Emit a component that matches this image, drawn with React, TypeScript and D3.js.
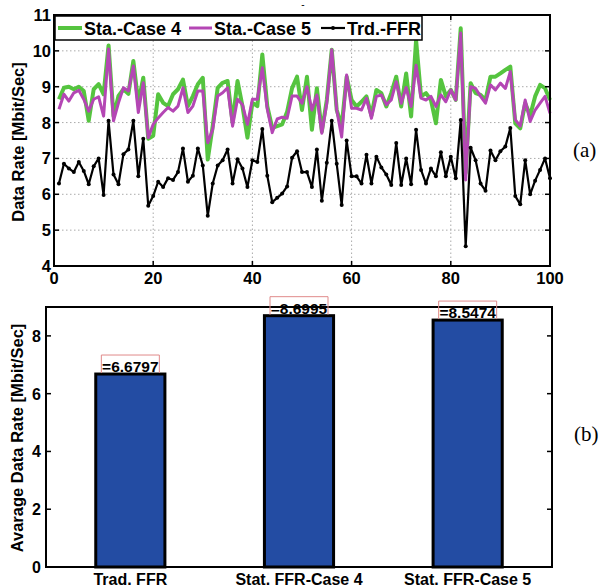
import * as d3 from "d3";

// x positions (time index)
const steps = d3.range(1, 101);

const trdFFR = [
  6.3, 6.85, 6.72, 6.62, 6.9, 6.65, 6.28, 6.78, 7.0, 5.98,
  8.05, 6.55, 6.28, 7.12, 7.25, 8.05, 6.5, 7.55, 5.68, 5.95,
  6.35, 6.2, 6.45, 6.4, 6.62, 7.28, 6.35, 6.52, 7.28, 6.8,
  5.4, 6.3, 6.8, 6.95, 7.25, 6.3, 6.98, 6.72, 6.2, 6.95,
  6.9, 7.82, 6.52, 5.78, 5.9, 6.02, 6.22, 7.02, 7.2, 6.62,
  6.62, 6.2, 7.25, 5.82, 6.88, 8.05, 6.85, 5.7, 7.5, 6.5,
  6.5, 6.3, 7.1, 6.3, 7.05, 6.75, 6.55, 6.26, 7.43, 6.26,
  7.0, 6.28, 7.8, 6.68, 6.3, 6.72, 6.5, 7.17, 6.5, 7.05,
  6.45, 8.07, 4.55, 7.3, 6.95, 6.3, 6.1, 7.22, 6.95, 7.2,
  7.33, 7.85, 5.95, 5.72, 6.95, 6.0, 6.38, 6.68, 7.0, 6.45,
];

const staCase5 = [
  8.37, 8.79, 8.6, 8.83, 8.9, 8.65, 8.32, 8.65, 8.72, 8.18,
  10.05, 8.05, 8.55, 8.97, 8.88, 9.58, 8.28, 9.11, 7.58, 7.95,
  8.13, 8.28, 8.42, 8.32, 8.46, 8.97, 8.28, 8.46, 8.88, 8.88,
  7.44, 7.81, 8.74, 8.83, 8.97, 7.9, 8.65, 8.5, 7.95, 8.65,
  8.65, 9.53, 8.37, 7.72, 8.1, 8.15, 8.12, 8.74, 8.74, 8.54,
  9.0, 8.35, 8.77, 7.7, 8.54, 10.03, 8.35, 7.6, 9.33, 8.4,
  8.4, 8.35, 8.68, 8.12, 8.73, 8.77, 8.5, 8.63, 9.14, 8.54,
  8.98, 8.45, 9.6, 8.68, 8.63, 8.73, 8.45, 8.77, 8.58, 8.91,
  8.63, 10.5, 6.4, 9.0, 8.95, 8.73, 8.54, 9.05, 8.91, 9.1,
  8.95, 9.42, 8.08, 7.9, 8.63, 8.03, 8.35, 8.54, 8.73, 8.26,
];

const staCase4 = [
  8.65, 8.97, 9.0, 8.93, 9.0, 8.88, 8.05, 8.93, 9.07, 8.79,
  10.15, 8.18, 8.74, 8.93, 8.8, 9.72, 8.55, 9.25, 7.55, 7.63,
  8.79, 8.55, 8.46, 8.79, 8.93, 9.2, 8.46, 8.74, 9.07, 9.25,
  6.97, 7.9, 8.97, 9.11, 9.16, 8.0, 9.16, 8.46, 7.58, 8.55,
  8.46, 9.9, 8.46, 7.85, 7.9, 7.95, 8.3, 8.96, 9.28, 8.35,
  9.28, 7.8, 8.96, 7.75, 8.63, 10.03, 8.35, 7.9, 9.28, 8.63,
  8.45, 8.58, 8.73, 8.2, 8.91, 8.82, 8.45, 8.82, 9.28, 8.45,
  9.37, 8.17, 10.3, 8.73, 8.82, 8.63, 7.98, 9.19, 8.73, 8.91,
  8.63, 10.63, 6.6, 9.1, 8.82, 8.77, 8.63, 9.28, 9.28, 9.37,
  9.47, 9.56, 7.98, 7.84, 8.54, 8.2, 8.73, 9.05, 8.96, 8.63,
];

const topXTicks = [0, 20, 40, 60, 80, 100];
const topYTicks = [4, 5, 6, 7, 8, 9, 10, 11];

const barCategories = ["Trad. FFR", "Stat. FFR-Case 4", "Stat. FFR-Case 5"];
const barValues = [6.6797, 8.6995, 8.5474];
const barYTicks = [0, 2, 4, 6, 8];

const FONT = "'Liberation Sans', Arial, Helvetica, sans-serif";
const GREEN = "#55c43f";
const MAGENTA = "#b446b4";
const BAR_BLUE = "#234ca3";

const App = () => {
  // top chart
  const x = d3.scaleLinear().domain([0, 100]).range([54, 550]);
  const y = d3.scaleLinear().domain([4, 11]).range([266, 15]);

  const line = (vals: number[]) =>
    d3
      .line<number>()
      .x((d, i) => x(steps[i]))
      .y((d) => y(d))(vals) as string;

  // bottom chart
  const bx = d3.scaleBand().domain(barCategories).range([46, 552]).paddingInner(0.59).paddingOuter(0.295);
  const by = d3.scaleLinear().domain([0, 9]).range([567, 307]);

  return (
    <svg
      width={600}
      height={587}
      style={{ position: "absolute", left: 0, top: 0, background: "#fff" }}
      fontFamily={FONT}
    >
      {/* ---------- (a) ---------- */}
      <text x={303} y={8} fontSize={10} textAnchor="middle">-</text>
      <g>
        {topXTicks.slice(1, -1).map((t) => (
          <line key={"gx" + t} x1={x(t)} x2={x(t)} y1={y(4)} y2={y(11)} stroke="#aaa" strokeWidth={1} strokeDasharray="1.5,2.5" />
        ))}
        {topYTicks.slice(1, -1).map((t) => (
          <line key={"gy" + t} x1={x(0)} x2={x(100)} y1={y(t)} y2={y(t)} stroke="#aaa" strokeWidth={1} strokeDasharray="1.5,2.5" />
        ))}
      </g>
      <path d={line(staCase4)} fill="none" stroke={GREEN} strokeWidth={4} strokeLinejoin="round" />
      <path d={line(staCase5)} fill="none" stroke={MAGENTA} strokeWidth={3} strokeLinejoin="round" />
      <path d={line(trdFFR)} fill="none" stroke="#000" strokeWidth={2.2} strokeLinejoin="round" />
      {trdFFR.map((v, i) => (
        <circle key={i} cx={x(steps[i])} cy={y(v)} r={2} fill="#000" />
      ))}
      {/* ticks */}
      {topYTicks.map((t) => (
        <g key={"ty" + t}>
          <line x1={x(0)} x2={x(0) + 5} y1={y(t)} y2={y(t)} stroke="#000" strokeWidth={1.5} />
          <line x1={x(100)} x2={x(100) - 5} y1={y(t)} y2={y(t)} stroke="#000" strokeWidth={1.5} />
          <text x={x(0) - 3} y={y(t) + 6} fontSize={16.5} fontWeight="bold" textAnchor="end">{t}</text>
        </g>
      ))}
      {topXTicks.map((t) => (
        <g key={"tx" + t}>
          <line x1={x(t)} x2={x(t)} y1={y(4)} y2={y(4) - 5} stroke="#000" strokeWidth={1.5} />
          <line x1={x(t)} x2={x(t)} y1={y(11)} y2={y(11) + 5} stroke="#000" strokeWidth={1.5} />
          <text x={x(t)} y={284} fontSize={16.5} fontWeight="bold" textAnchor="middle">{t}</text>
        </g>
      ))}
      <rect x={x(0)} y={y(11)} width={x(100) - x(0)} height={y(4) - y(11)} fill="none" stroke="#000" strokeWidth={2} />
      <text transform={`translate(24,142) rotate(-90)`} fontSize={16.5} fontWeight="bold" textAnchor="middle">
        Data Rate [Mbit/Sec]
      </text>
      {/* legend */}
      <g>
        <rect x={55} y={16} width={367} height={24} fill="#fff" stroke="#000" strokeWidth={1.5} />
        <line x1={58} x2={82} y1={28} y2={28} stroke={GREEN} strokeWidth={4} />
        <text x={84} y={34.5} fontSize={18} fontWeight="bold">Sta.-Case 4</text>
        <line x1={189} x2={212} y1={28} y2={28} stroke={MAGENTA} strokeWidth={3} />
        <text x={214} y={34.5} fontSize={18} fontWeight="bold">Sta.-Case 5</text>
        <line x1={321} x2={345} y1={28} y2={28} stroke="#000" strokeWidth={2.2} />
        <circle cx={333} cy={28} r={2} fill="#000" />
        <text x={347} y={34.5} fontSize={18} fontWeight="bold">Trd.-FFR</text>
      </g>
      <text x={573} y={157} fontSize={21} fontFamily="'Liberation Serif', 'Times New Roman', serif">(a)</text>

      {/* ---------- (b) ---------- */}
      {barCategories.map((c, i) => (
        <g key={c}>
          <rect
            x={bx(c)}
            y={by(barValues[i])}
            width={bx.bandwidth()}
            height={by(0) - by(barValues[i])}
            fill={BAR_BLUE}
            stroke="#000"
            strokeWidth={3}
          />
        </g>
      ))}
      {barYTicks.map((t) => (
        <g key={"by" + t}>
          <line x1={46} x2={51} y1={by(t)} y2={by(t)} stroke="#000" strokeWidth={1.5} />
          <line x1={552} x2={547} y1={by(t)} y2={by(t)} stroke="#000" strokeWidth={1.5} />
          <text x={41} y={by(t) + 6} fontSize={16} fontWeight="bold" textAnchor="end">{t}</text>
        </g>
      ))}
      <rect x={46} y={by(9)} width={506} height={by(0) - by(9)} fill="none" stroke="#000" strokeWidth={2} />
      {barCategories.map((c, i) => {
        const cx = (bx(c) as number) + bx.bandwidth() / 2;
        const top = by(barValues[i]);
        return (
          <g key={"lab" + c}>
            <path
              d={`M${cx - 29},${top - 1} V${top - 19} H${cx + 29} V${top - 1}`}
              fill="none"
              stroke="#e08a8a"
              strokeWidth={1}
            />
            <text x={cx} y={top - 2} fontSize={15.5} fontWeight="bold" textAnchor="middle">
              ={barValues[i].toFixed(4)}
            </text>
            <text x={cx} y={585} fontSize={16} fontWeight="bold" textAnchor="middle">{c}</text>
          </g>
        );
      })}
      <text transform={`translate(23,438) rotate(-90)`} fontSize={16.5} fontWeight="bold" textAnchor="middle">
        Avarage Data Rate [Mbit/Sec]
      </text>
      <text x={574} y={441} fontSize={21} fontFamily="'Liberation Serif', 'Times New Roman', serif">(b)</text>
    </svg>
  );
};

export default App;
